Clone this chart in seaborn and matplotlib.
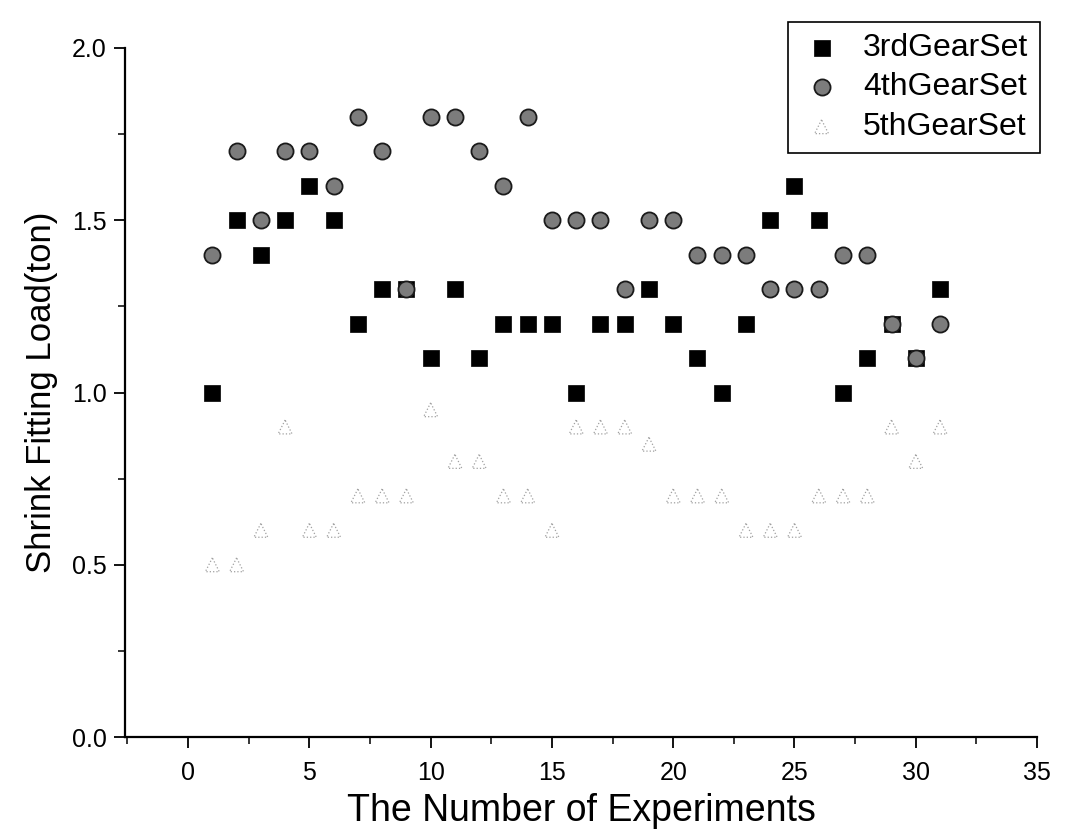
import numpy as np
import pandas as pd
import matplotlib
matplotlib.use('Agg')
import matplotlib.pyplot as plt
from matplotlib.ticker import MultipleLocator
import seaborn as sns

experiments = [1, 2, 3, 4, 5, 6, 7, 8, 9, 10, 11, 12, 13, 14, 15, 16,
               17, 18, 19, 20, 21, 22, 23, 24, 25, 26, 27, 28, 29, 30, 31]
gear3 = [1.0, 1.5, 1.4, 1.5, 1.6, 1.5, 1.2, 1.3, 1.3, 1.1, 1.3, 1.1, 1.2, 1.2, 1.2, 1.0,
         1.2, 1.2, 1.3, 1.2, 1.1, 1.0, 1.2, 1.5, 1.6, 1.5, 1.0, 1.1, 1.2, 1.1, 1.3]
gear4 = [1.4, 1.7, 1.5, 1.7, 1.7, 1.6, 1.8, 1.7, 1.3, 1.8, 1.8, 1.7, 1.6, 1.8, 1.5, 1.5,
         1.5, 1.3, 1.5, 1.5, 1.4, 1.4, 1.4, 1.3, 1.3, 1.3, 1.4, 1.4, 1.2, 1.1, 1.2]
gear5 = [0.5, 0.5, 0.6, 0.9, 0.6, 0.6, 0.7, 0.7, 0.7, 0.95, 0.8, 0.8, 0.7, 0.7, 0.6, 0.9,
         0.9, 0.9, 0.85, 0.7, 0.7, 0.7, 0.6, 0.6, 0.6, 0.7, 0.7, 0.7, 0.9, 0.8, 0.9]

df = pd.DataFrame({'exp': experiments, 'g3': gear3, 'g4': gear4, 'g5': gear5})

sns.set_style('ticks')
plt.rcParams['font.family'] = ['Liberation Sans', 'DejaVu Sans']
plt.rcParams['text.color'] = 'black'
plt.rcParams['axes.labelcolor'] = 'black'

fig, ax = plt.subplots(figsize=(10.75, 8.36), dpi=100)
fig.subplots_adjust(left=0.1163, right=0.9647, bottom=0.1184, top=0.9426)

sns.scatterplot(data=df, x='exp', y='g3', marker='s', s=125, color='black',
                edgecolor='black', linewidth=0.5, label='3rdGearSet', ax=ax, zorder=3)
sns.scatterplot(data=df, x='exp', y='g4', marker='o', s=135, color='#7c7c7c',
                edgecolor='#1a1a1a', linewidth=1.3, label='4thGearSet', ax=ax, zorder=4)
sns.scatterplot(data=df, x='exp', y='g5', marker='^', s=100, facecolor='none',
                edgecolor='#a0a0a0', linewidth=0.9, linestyle=':', label='5thGearSet',
                ax=ax, zorder=2)

ax.set_xlim(-2.6, 35)
ax.set_ylim(0, 2.0)
ax.xaxis.set_major_locator(MultipleLocator(5))
ax.xaxis.set_minor_locator(MultipleLocator(2.5))
ax.yaxis.set_major_locator(MultipleLocator(0.5))
ax.yaxis.set_minor_locator(MultipleLocator(0.25))
ax.tick_params(which='major', direction='out', length=8, width=1.3, labelsize=18,
               color='black', labelcolor='black')
ax.tick_params(which='minor', direction='out', length=5, width=1.1, color='black')
ax.tick_params(axis='x', pad=9)
ax.tick_params(axis='y', pad=5)
ax.yaxis.set_major_formatter(matplotlib.ticker.FormatStrFormatter('%.1f'))

for side in ['top', 'right']:
    ax.spines[side].set_visible(False)
for side in ['left', 'bottom']:
    ax.spines[side].set_linewidth(1.6)
    ax.spines[side].set_color('black')

ax.set_xlabel('The Number of Experiments', fontsize=27, labelpad=6)
ax.set_ylabel('Shrink Fitting Load(ton)', fontsize=25, labelpad=10)

leg = ax.legend(loc='upper right', bbox_to_anchor=(0.967, 0.974),
                bbox_transform=fig.transFigure, borderaxespad=0, fontsize=23,
                frameon=True, fancybox=False, labelspacing=0.3, handletextpad=0.6,
                borderpad=0.35, handlelength=1.4)
leg.get_frame().set_edgecolor('black')
leg.get_frame().set_linewidth(1.2)
leg.get_frame().set_alpha(1)

plt.savefig('out.png', dpi=100)
